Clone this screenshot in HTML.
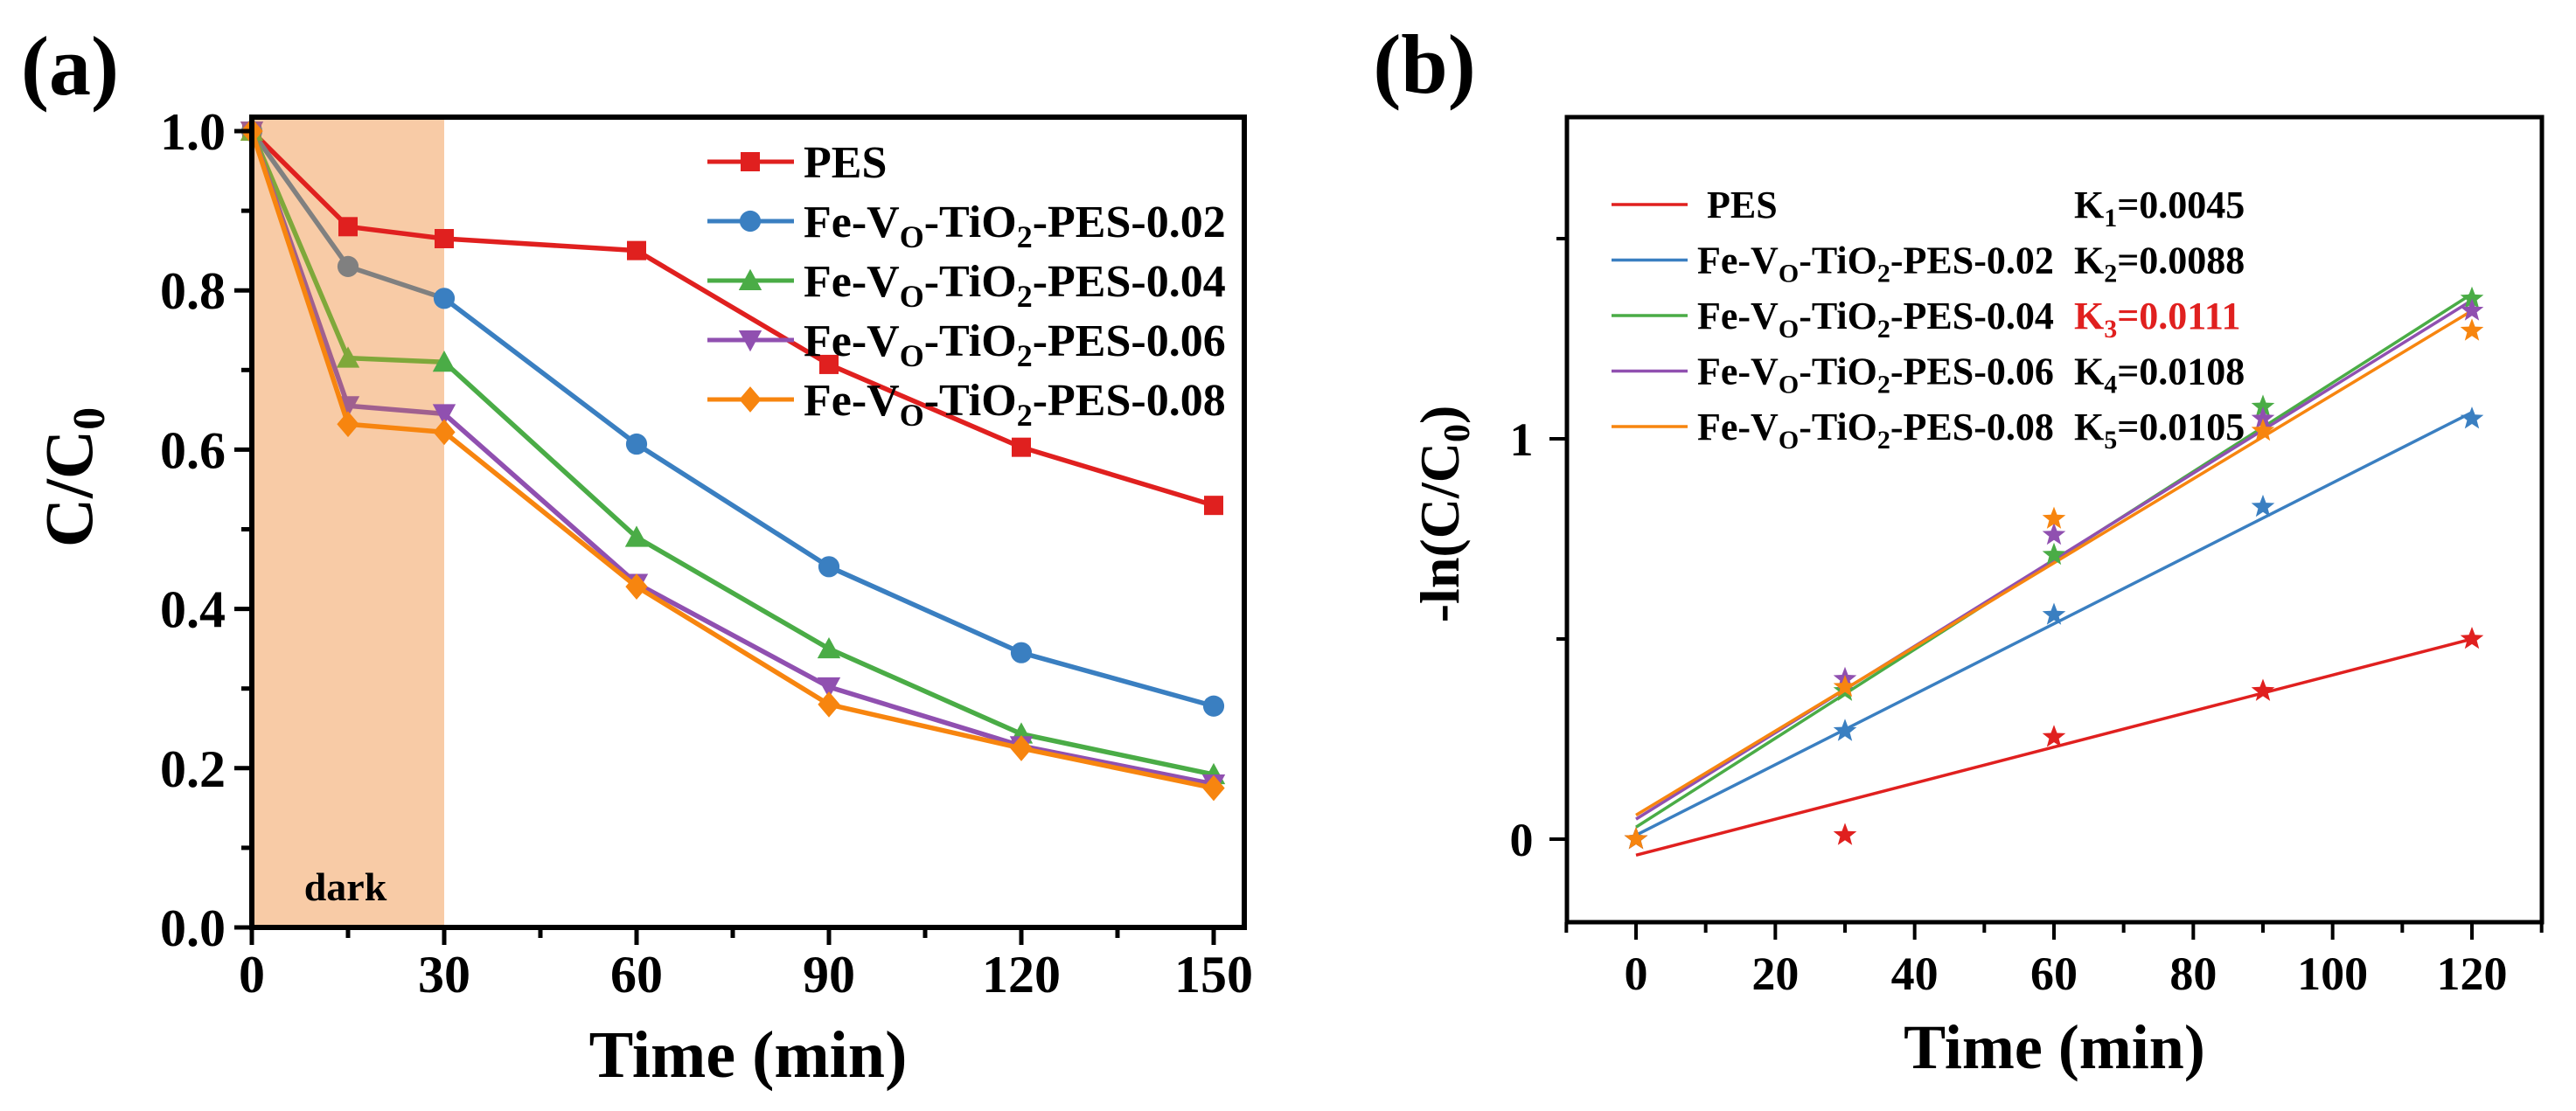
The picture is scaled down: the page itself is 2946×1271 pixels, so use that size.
<!DOCTYPE html>
<html><head><meta charset="utf-8"><style>
html,body{margin:0;padding:0;background:#fff;}
svg{display:block;font-family:"Liberation Serif",serif;}
</style></head><body>
<svg id="fig" width="2946" height="1271" viewBox="0 0 2946 1271" xmlns="http://www.w3.org/2000/svg">
<g id="pa"></g>
<g id="pb"></g>
</svg>
<script>
// ---------- Panel (a) data ----------
const timesA = [0, 15, 30, 60, 90, 120, 150];
const pesA = [1, 0.88, 0.865, 0.85, 0.707, 0.603, 0.53];
const fe002A = [1, 0.83, 0.79, 0.607, 0.453, 0.345, 0.278];
const fe004A = [1, 0.715, 0.71, 0.49, 0.35, 0.243, 0.192];
const fe006A = [1, 0.655, 0.645, 0.432, 0.302, 0.228, 0.18];
const fe008A = [1, 0.632, 0.622, 0.428, 0.28, 0.225, 0.175];
const xTicksA = [0, 30, 60, 90, 120, 150];
const yTicksA = [0.0, 0.2, 0.4, 0.6, 0.8, 1.0];
const darkEnd = 30;
// ---------- Panel (b) data ----------
const timesB = [0, 30, 60, 90, 120];
const pesB = [0, 0.01, 0.255, 0.37, 0.50];
const fe002B = [0, 0.27, 0.56, 0.83, 1.05];
const fe004B = [0, 0.37, 0.71, 1.08, 1.35];
const fe006B = [0, 0.40, 0.76, 1.05, 1.32];
const fe008B = [0, 0.38, 0.80, 1.02, 1.27];
const kValues = [0.0045, 0.0088, 0.0111, 0.0108, 0.0105];
const intercepts = [-0.04, 0.01, 0.03, 0.05, 0.06];
const xTicksB = [0, 20, 40, 60, 80, 100, 120];
const yTicksB = [0, 1];

const NS = "http://www.w3.org/2000/svg";
function mk(parent, tag, attrs, text) {
  const e = document.createElementNS(NS, tag);
  for (const k in attrs) e.setAttribute(k, attrs[k]);
  if (text !== undefined) e.textContent = text;
  parent.appendChild(e);
  return e;
}
const colors = ["#e0201f", "#3a7fc1", "#4aac46", "#9050b0", "#f7850f"];
const names = ["PES", "0.02", "0.04", "0.06", "0.08"];

// ================= PANEL A =================
const pa = document.getElementById("pa");
const AL = 288, AR = 1423, AT = 134, AB = 1061;
const xa = t => AL + t * (220 / 30);
const ya = v => AB - v * 911;

const dark = mk(pa, "rect", {x: xa(0), y: AT, width: xa(darkEnd) - xa(0), height: AB - AT, fill: "#f8cba6"});


const darkT = mk(pa, "text", {x: 395, y: 1030, "font-size": 46, "font-weight": "bold", "text-anchor": "middle"}, "dark");



function marker(g, type, x, y, c, s) {
  let e;
  if (type === "square") e = mk(g, "rect", {x: x - s, y: y - s, width: 2 * s, height: 2 * s, fill: c});
  else if (type === "circle") e = mk(g, "circle", {cx: x, cy: y, r: s * 1.1, fill: c});
  else if (type === "up") e = mk(g, "polygon", {points: `${x},${y - s * 1.2} ${x - s * 1.2},${y + s} ${x + s * 1.2},${y + s}`, fill: c});
  else if (type === "down") e = mk(g, "polygon", {points: `${x},${y + s * 1.2} ${x - s * 1.2},${y - s} ${x + s * 1.2},${y - s}`, fill: c});
  else e = mk(g, "polygon", {points: `${x},${y - s * 1.35} ${x + s * 1.15},${y} ${x},${y + s * 1.35} ${x - s * 1.15},${y}`, fill: c});
  return e;
}
const seriesA = [pesA, fe002A, fe004A, fe006A, fe008A];
const mtypes = ["square", "circle", "up", "down", "diamond"];
const darkColors = ["#e0201f", "#808080", "#7fa83a", "#a0608f", "#f7850f"];
seriesA.forEach((vals, si) => {
  const g = mk(pa, "g", {});
  
  
  for (let i = 0; i < vals.length - 1; i++) {
    const c = timesA[i] < darkEnd ? darkColors[si] : colors[si];
    mk(g, "line", {x1: xa(timesA[i]), y1: ya(vals[i]), x2: xa(timesA[i + 1]), y2: ya(vals[i + 1]), stroke: c, "stroke-width": 5.5});
  }
  vals.forEach((v, i) => {
    const c = timesA[i] < darkEnd ? darkColors[si] : colors[si];
    const m = marker(g, mtypes[si], xa(timesA[i]), ya(v), c, 11);
    
    
  });
});
const fa = mk(pa, "rect", {x: AL, y: AT, width: AR - AL, height: AB - AT, fill: "none", stroke: "#000", "stroke-width": 6});


for (let t = 0; t <= 150; t += 15) {
  const major = t % 30 === 0;
  mk(pa, "line", {x1: xa(t), y1: AB, x2: xa(t), y2: AB + (major ? 20 : 12), stroke: "#000", "stroke-width": 5});
}
for (let i = 0; i <= 10; i++) {
  const v = i / 10, major = i % 2 === 0;
  mk(pa, "line", {x1: AL, y1: ya(v), x2: AL - (major ? 20 : 12), y2: ya(v), stroke: "#000", "stroke-width": 5});
}
xTicksA.forEach(t => {
  const e = mk(pa, "text", {x: xa(t), y: 1135, "font-size": 60, "font-weight": "bold", "text-anchor": "middle"}, String(t));
  
  
});
yTicksA.forEach(v => {
  const e = mk(pa, "text", {x: 258, y: ya(v) + 21, "font-size": 60, "font-weight": "bold", "text-anchor": "end"}, v.toFixed(1));
  
  
});
const xta = mk(pa, "text", {x: (AL + AR) / 2, y: 1232, "font-size": 76, "font-weight": "bold", "text-anchor": "middle"}, "Time (min)");


const yta = mk(pa, "text", {x: 0, y: 0, "font-size": 78, "font-weight": "bold", "text-anchor": "middle", transform: "translate(105,546) rotate(-90)"});


yta.innerHTML = 'C/C<tspan font-size="52" dy="14">0</tspan>';
const la = mk(pa, "text", {x: 80, y: 108, "font-size": 96, "font-weight": "bold", "text-anchor": "middle"}, "(a)");


const legRowsA = ["PES", "0.02", "0.04", "0.06", "0.08"];
legRowsA.forEach((n, i) => {
  const y = 185 + i * 68;
  const g = mk(pa, "g", {});
  
  
  mk(g, "line", {x1: 809, y1: y, x2: 908, y2: y, stroke: colors[i], "stroke-width": 5});
  marker(g, mtypes[i], 858, y, colors[i], 11);
  const t = mk(g, "text", {x: 919, y: y + 18, "font-size": 52, "font-weight": "bold"});
  if (i === 0) t.textContent = "PES";
  else t.innerHTML = 'Fe-V<tspan font-size="36" dy="12">O</tspan><tspan dy="-12">-TiO</tspan><tspan font-size="36" dy="12">2</tspan><tspan dy="-12">-PES-' + n + '</tspan>';
});

// ================= PANEL B =================
const pb = document.getElementById("pb");
const BL = 1792, BR = 2907, BT = 134, BB = 1055;
const xb = t => 1871 + t * (956 / 120);
const yb = v => 960 - v * 458;
const seriesB = [pesB, fe002B, fe004B, fe006B, fe008B];
kValues.forEach((k, si) => {
  const l = mk(pb, "line", {x1: xb(0), y1: yb(intercepts[si]), x2: xb(120), y2: yb(intercepts[si] + k * 120), stroke: colors[si], "stroke-width": 3.5});
  
  
});
function star(g, x, y, r, c) {
  let p = [];
  for (let i = 0; i < 10; i++) {
    const a = -Math.PI / 2 + i * Math.PI / 5, rr = i % 2 ? r * 0.42 : r;
    p.push((x + rr * Math.cos(a)).toFixed(1) + "," + (y + rr * Math.sin(a)).toFixed(1));
  }
  return mk(g, "polygon", {points: p.join(" "), fill: c});
}
seriesB.forEach((vals, si) => {
  const g = mk(pb, "g", {});
  
  
  vals.forEach((v, i) => {
    const s = star(g, xb(timesB[i]), yb(v), 14, colors[si]);
    
    
  });
});
const fb = mk(pb, "rect", {x: BL, y: BT, width: BR - BL, height: BB - BT, fill: "none", stroke: "#000", "stroke-width": 5});


for (let t = -10; t <= 130; t += 10) {
  const major = t % 20 === 0;
  mk(pb, "line", {x1: xb(t), y1: BB, x2: xb(t), y2: BB + (major ? 20 : 12), stroke: "#000", "stroke-width": 4});
}
[0, 0.5, 1, 1.5].forEach(v => {
  const major = v % 1 === 0;
  mk(pb, "line", {x1: BL, y1: yb(v), x2: BL - (major ? 20 : 12), y2: yb(v), stroke: "#000", "stroke-width": 4});
});
xTicksB.forEach(t => {
  const e = mk(pb, "text", {x: xb(t), y: 1132, "font-size": 54, "font-weight": "bold", "text-anchor": "middle"}, String(t));
  
  
});
yTicksB.forEach(v => {
  const e = mk(pb, "text", {x: 1740, y: yb(v) + 19, "font-size": 54, "font-weight": "bold", "text-anchor": "middle"}, String(v));
  
  
});
const xtb = mk(pb, "text", {x: (BL + BR) / 2, y: 1222, "font-size": 72, "font-weight": "bold", "text-anchor": "middle"}, "Time (min)");


const ytb = mk(pb, "text", {x: 0, y: 0, "font-size": 64, "font-weight": "bold", "text-anchor": "middle", transform: "translate(1668,588) rotate(-90)"});


ytb.innerHTML = '-ln(C/C<tspan font-size="42" dy="12">0</tspan><tspan dy="-12">)</tspan>';
const lb = mk(pb, "text", {x: 1629, y: 106, "font-size": 96, "font-weight": "bold", "text-anchor": "middle"}, "(b)");


names.forEach((n, i) => {
  const y = 234 + i * 63.5;
  const g = mk(pb, "g", {});
  
  
  mk(g, "line", {x1: 1843, y1: y, x2: 1930, y2: y, stroke: colors[i], "stroke-width": 3.5});
  const t = mk(g, "text", {x: i === 0 ? 1952 : 1941, y: y + 15, "font-size": 44, "font-weight": "bold"});
  if (i === 0) t.textContent = "PES";
  else t.innerHTML = 'Fe-V<tspan font-size="30" dy="10">O</tspan><tspan dy="-10">-TiO</tspan><tspan font-size="30" dy="10">2</tspan><tspan dy="-10">-PES-' + n + '</tspan>';
  const kt = mk(g, "text", {x: 2372, y: y + 15, "font-size": 44, "font-weight": "bold", fill: i === 2 ? "#e0201f" : "#000"});
  kt.innerHTML = 'K<tspan font-size="30" dy="10">' + (i + 1) + '</tspan><tspan dy="-10">=' + kValues[i].toFixed(4) + '</tspan>';
  
  
});
</script>
</body></html>
